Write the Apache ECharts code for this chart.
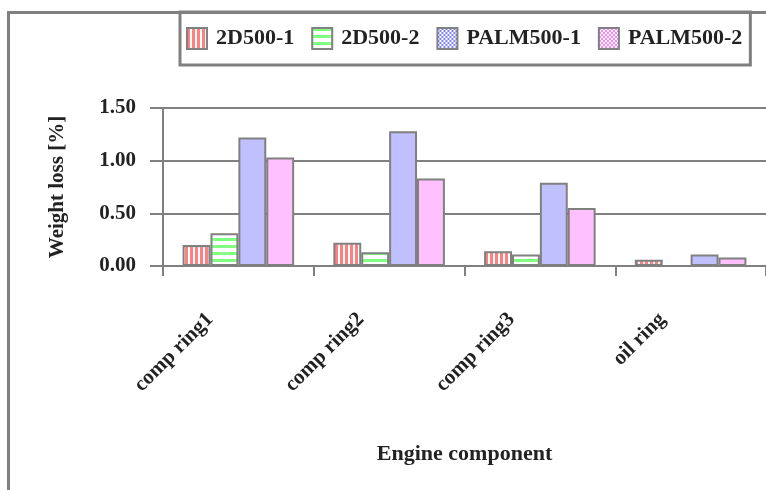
<!DOCTYPE html>
<html>
<head>
<meta charset="utf-8">
<script src="https://cdn.jsdelivr.net/npm/echarts@6/dist/echarts.min.js"></script>
<style>
html,body{margin:0;padding:0;background:#fff;}
#c{width:766px;height:490px;}
</style>
</head>
<body>
<div id="c"></div>
<script>
// ---- data ----
const categories = ['comp ring1', 'comp ring2', 'comp ring3', 'oil ring'];
const seriesNames = ['2D500-1', '2D500-2', 'PALM500-1', 'PALM500-2'];
const d2D500_1 = [0.20, 0.22, 0.14, 0.06];
const d2D500_2 = [0.31, 0.13, 0.11, 0.00];
const dPALM500_1 = [1.22, 1.28, 0.79, 0.11];
const dPALM500_2 = [1.03, 0.83, 0.55, 0.08];
const yTicks = { min: 0, max: 1.5, interval: 0.5 };
const yTitle = 'Weight loss [%]';
const xTitle = 'Engine component';

// ---- patterns ----
function makePattern(w, h, draw) {
  const cv = document.createElement('canvas');
  cv.width = w; cv.height = h;
  const ctx = cv.getContext('2d');
  ctx.fillStyle = '#ffffff';
  ctx.fillRect(0, 0, w, h);
  draw(ctx);
  return { image: cv, repeat: 'repeat' };
}
const redStripes = makePattern(5, 4, ctx => { ctx.fillStyle = '#ff8080'; ctx.fillRect(0, 0, 3, 4); });
const greenStripes = makePattern(4, 7, ctx => { ctx.fillStyle = '#80ff80'; ctx.fillRect(0, 0, 4, 3); });
const blueChecker = makePattern(4, 4, ctx => { ctx.fillStyle = '#8080ff'; ctx.fillRect(0, 0, 2, 2); ctx.fillRect(2, 2, 2, 2); });
const pinkChecker = makePattern(4, 4, ctx => { ctx.fillStyle = '#ff80ff'; ctx.fillRect(0, 0, 2, 2); ctx.fillRect(2, 2, 2, 2); });

const FONT = '"Liberation Serif", "Times New Roman", serif';
const GRAY = '#808080';

const fills = [redStripes, greenStripes, '#c0c0ff', '#ffc0ff'];
const legendFills = [redStripes, greenStripes, blueChecker, pinkChecker];
const values = [d2D500_1, d2D500_2, dPALM500_1, dPALM500_2];

const chart = echarts.init(document.getElementById('c'), null, { renderer: 'canvas' });
chart.setOption({
  animation: false,
  backgroundColor: '#ffffff',
  graphic: [{
    type: 'rect',
    shape: { x: 8.5, y: 12.5, width: 900, height: 600 },
    style: { fill: 'none', stroke: GRAY, lineWidth: 3 },
    z: -1
  }],
  legend: {
    left: 180, top: 12,
    padding: [15, 8, 15, 6],
    borderColor: GRAY, borderWidth: 3,
    icon: 'rect',
    itemWidth: 20, itemHeight: 21,
    itemGap: 17,
    textStyle: { fontFamily: FONT, fontWeight: 'bold', fontSize: 22, color: '#222', padding: [0, 0, 0, 4] },
    data: seriesNames.map((n, i) => ({
      name: n,
      itemStyle: { color: legendFills[i], borderColor: GRAY, borderWidth: 2 }
    }))
  },
  grid: { left: 163, top: 108, bottom: 224, right: -5, containLabel: false },
  xAxis: {
    type: 'category',
    data: categories,
    name: xTitle,
    nameLocation: 'middle',
    nameGap: 177,
    nameTextStyle: { fontFamily: FONT, fontWeight: 'bold', fontSize: 22, color: '#222' },
    axisLine: { lineStyle: { color: GRAY, width: 2 } },
    axisTick: { show: true, length: 10, lineStyle: { color: GRAY, width: 2 } },
    axisLabel: {
      rotate: 45, margin: 22, interval: 0,
      padding: [0, 40, 0, 0],
      fontFamily: FONT, fontWeight: 'bold', fontSize: 21, color: '#222'
    }
  },
  yAxis: {
    type: 'value',
    min: yTicks.min, max: yTicks.max, interval: yTicks.interval,
    name: yTitle,
    nameLocation: 'middle',
    nameRotate: 90,
    nameGap: 95,
    nameTextStyle: { fontFamily: FONT, fontWeight: 'bold', fontSize: 21, color: '#222' },
    axisLine: { show: true, lineStyle: { color: GRAY, width: 2 } },
    axisTick: { show: true, length: 13, lineStyle: { color: GRAY, width: 2 } },
    axisLabel: {
      margin: 27,
      formatter: v => v.toFixed(2),
      fontFamily: FONT, fontWeight: 'bold', fontSize: 21, color: '#222'
    },
    splitLine: { show: true, lineStyle: { color: GRAY, width: 2 } }
  },
  series: seriesNames.map((n, i) => ({
    name: n,
    type: 'bar',
    data: values[i],
    barGap: '0%',
    barCategoryGap: '26%',
    itemStyle: { color: fills[i], borderColor: GRAY, borderWidth: 2 }
  }))
});
</script>
</body>
</html>
